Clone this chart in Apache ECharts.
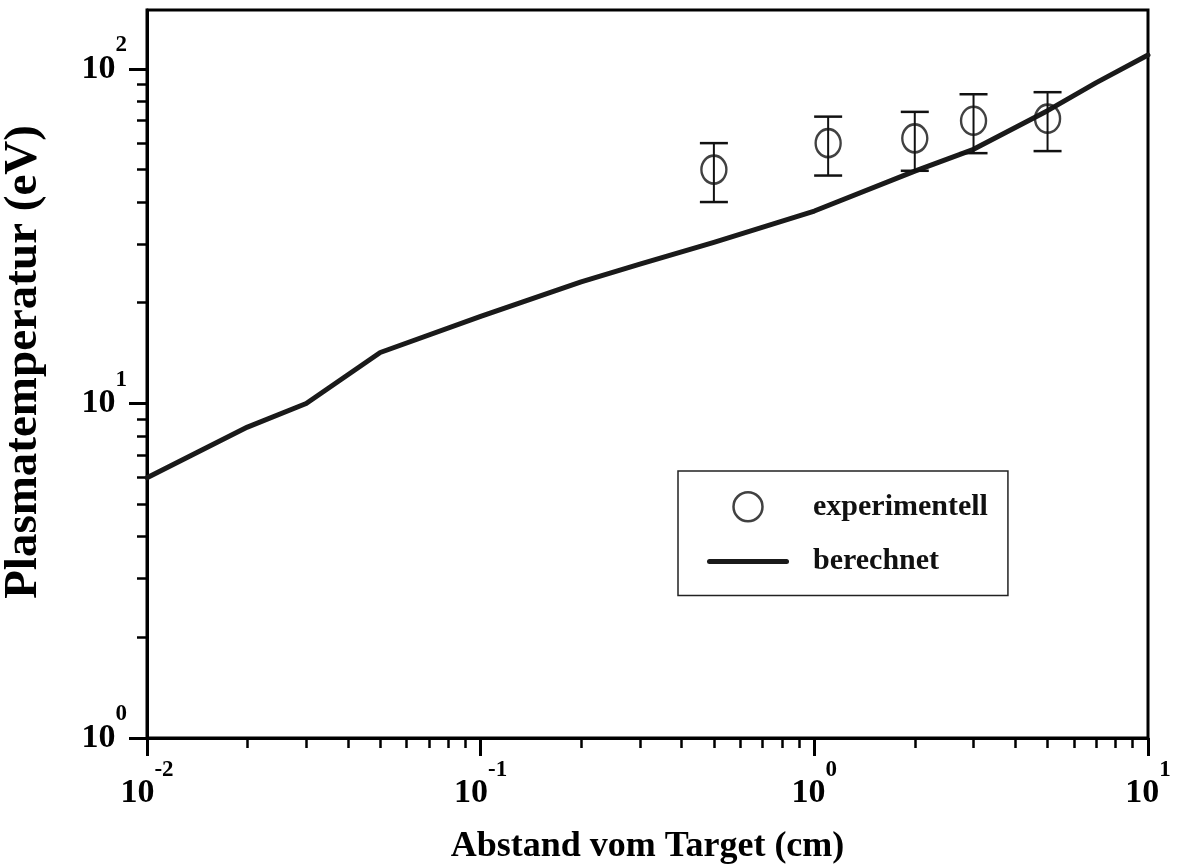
<!DOCTYPE html>
<html>
<head>
<meta charset="utf-8">
<script src="https://cdn.jsdelivr.net/npm/echarts@6/dist/echarts.min.js"></script>
<style>
  html, body { margin: 0; padding: 0; background: #fff; }
  #chart { width: 1178px; height: 865px; }
</style>
</head>
<body>
<div id="chart"></div>
<script>
// Berechnete Plasmatemperatur über dem Abstand (cm -> eV)
const calcX = [0.01, 0.02, 0.03, 0.05, 0.1, 0.2, 0.3, 0.5, 1, 2, 3, 5, 7, 10];
const calcY = [6.0, 8.5, 10.0, 14.2, 18.2, 23.1, 26.1, 30.3, 37.6, 49.5, 57.5, 75, 91, 110];

// Messwerte mit Fehlerbalken (± eV)
const expX = [0.5, 1.1, 2, 3, 5];
const expY = [50, 60, 62, 70, 71];
const expErr = [10, 12, 12.4, 14, 14.2];

// Dekaden-Beschriftung (Exponenten)
const xTickExps = [-2, -1, 0, 1];
const yTickExps = [0, 1, 2];
const yTop = 150;
const minorFactors = [2, 3, 4, 5, 6, 7, 8, 9];

const FONT = '"Liberation Serif", "Times New Roman", serif';
const lg = Math.log10;

function minorTicks(lo, hi) {
  const out = [];
  for (let e = Math.floor(lo); e < Math.ceil(hi); e++) {
    for (const f of minorFactors) {
      const v = e + lg(f);
      if (v > lo && v < hi) out.push(v);
    }
  }
  return out;
}

const xMin = -2, xMax = 1;
const yMin = 0, yMax = lg(yTop);

const richPow = {
  b: { fontFamily: FONT, fontWeight: 'bold', fontSize: 34, lineHeight: 71, color: '#000' },
  s: { fontFamily: FONT, fontWeight: 'bold', fontSize: 23, lineHeight: 24, color: '#000', padding: [0, 0, 47, 0] }
};
const powFmt = v => '{b|10}{s|' + Math.round(v) + '}';

const lineData = calcX.map((x, i) => [lg(x), lg(calcY[i])]);
const expData = expX.map((x, i) => [lg(x), lg(expY[i])]);
const errData = expX.map((x, i) => [lg(x), lg(expY[i] - expErr[i]), lg(expY[i] + expErr[i])]);

const chart = echarts.init(document.getElementById('chart'), null, { renderer: 'canvas' });

chart.setOption({
  animation: false,
  backgroundColor: '#fff',
  grid: {
    left: 147, right: 30, top: 10, bottom: 127,
    containLabel: false, outerBoundsMode: 'none',
    show: true, borderColor: '#000', borderWidth: 3, backgroundColor: 'transparent'
  },
  legend: {
    left: 678, top: 471,
    orient: 'vertical',
    padding: [20, 20, 19, 29],
    borderColor: '#222', borderWidth: 1.5,
    itemWidth: 82, itemHeight: 29, itemGap: 24,
    selectedMode: false,
    textStyle: { fontFamily: FONT, fontWeight: 'bold', fontSize: 30, color: '#111', padding: [0, 0, 0, 19] },
    data: [
      { name: 'experimentell', icon: 'circle', itemStyle: { color: 'transparent', borderColor: '#111', borderWidth: 2.5 } },
      {
        name: 'berechnet',
        icon: 'path://M2.5,0 H79.5 A2.5,2.5 0 0 1 79.5,5 H2.5 A2.5,2.5 0 0 1 2.5,0 Z',
        itemStyle: { color: '#1a1a1a', borderWidth: 0 }
      }
    ]
  },
  xAxis: [
    {
      type: 'value', min: xMin, max: xMax, interval: 1, position: 'bottom',
      axisLine: { show: true, onZero: false, lineStyle: { color: '#000', width: 3 } },
      axisTick: { show: true, inside: false, length: 18, customValues: xTickExps, lineStyle: { color: '#000', width: 3 } },
      axisLabel: { customValues: xTickExps, margin: 20, formatter: powFmt, rich: richPow },
      splitLine: { show: false },
      name: 'Abstand vom Target (cm)',
      nameLocation: 'middle', nameGap: 91, nameMoveOverlap: false,
      nameTextStyle: { fontFamily: FONT, fontWeight: 'bold', fontSize: 36, color: '#000' }
    },
    {
      type: 'value', min: xMin, max: xMax, position: 'bottom',
      axisLine: { show: false, onZero: false },
      axisTick: { show: true, inside: false, length: 10, customValues: minorTicks(xMin, xMax), lineStyle: { color: '#000', width: 2.5 } },
      axisLabel: { show: false },
      splitLine: { show: false }
    }
  ],
  yAxis: [
    {
      type: 'value', min: yMin, max: yMax, interval: 1, position: 'left',
      axisLine: { show: true, onZero: false, lineStyle: { color: '#000', width: 3 } },
      axisTick: { show: true, inside: false, length: 18, customValues: yTickExps, lineStyle: { color: '#000', width: 3 } },
      axisLabel: { customValues: yTickExps, margin: 20, formatter: powFmt, rich: richPow },
      splitLine: { show: false },
      name: 'Plasmatemperatur (eV)',
      nameLocation: 'middle', nameGap: 100, nameRotate: 90, nameMoveOverlap: false,
      nameTextStyle: { fontFamily: FONT, fontWeight: 'bold', fontSize: 47, color: '#000', padding: [0, 0, 0, 24] }
    },
    {
      type: 'value', min: yMin, max: yMax, position: 'left',
      axisLine: { show: false, onZero: false },
      axisTick: { show: true, inside: false, length: 10, customValues: minorTicks(yMin, yMax), lineStyle: { color: '#000', width: 2.5 } },
      axisLabel: { show: false },
      splitLine: { show: false }
    }
  ],
  series: [
    {
      name: 'berechnet',
      type: 'line',
      xAxisIndex: 0, yAxisIndex: 0,
      data: lineData,
      showSymbol: false, symbol: 'none',
      lineStyle: { color: '#1a1a1a', width: 5, cap: 'round', join: 'round' },
      itemStyle: { color: '#1a1a1a' },
      z: 3
    },
    {
      name: 'Fehler',
      type: 'custom',
      xAxisIndex: 0, yAxisIndex: 0,
      data: errData,
      encode: { x: 0, y: [1, 2] },
      renderItem: function (params, api) {
        const top = api.coord([api.value(0), api.value(2)]);
        const bot = api.coord([api.value(0), api.value(1)]);
        const half = 14;
        const capStyle = { stroke: '#111', lineWidth: 2.5 };
        return {
          type: 'group',
          children: [
            { type: 'line', shape: { x1: top[0], y1: top[1], x2: bot[0], y2: bot[1] }, style: { stroke: '#111', lineWidth: 2 } },
            { type: 'line', shape: { x1: top[0] - half, y1: top[1], x2: top[0] + half, y2: top[1] }, style: capStyle },
            { type: 'line', shape: { x1: bot[0] - half, y1: bot[1], x2: bot[0] + half, y2: bot[1] }, style: capStyle }
          ]
        };
      },
      z: 4
    },
    {
      name: 'experimentell',
      type: 'scatter',
      xAxisIndex: 0, yAxisIndex: 0,
      data: expData,
      symbol: 'circle',
      symbolSize: [25, 28],
      itemStyle: { color: 'transparent', borderColor: '#111', borderWidth: 2.5 },
      z: 5
    }
  ]
});
</script>
</body>
</html>
